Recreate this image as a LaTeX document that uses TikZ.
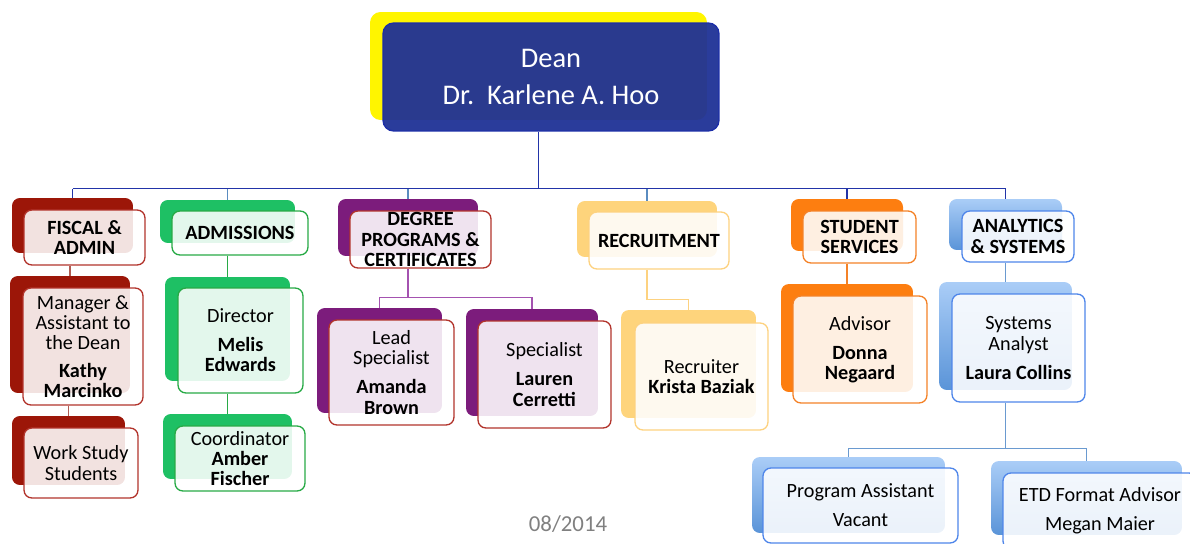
\documentclass[tikz,border=0pt]{standalone}
\usepackage{fontspec}
\setmainfont{Carlito}
\usetikzlibrary{positioning}

\definecolor{deanblue}{RGB}{31,49,150}
\definecolor{deanedge}{RGB}{28,46,168}
\definecolor{deanback}{RGB}{255,245,0}
\definecolor{busblue}{RGB}{34,52,168}
\definecolor{steel}{RGB}{90,140,192}
\definecolor{fiscalred}{RGB}{156,22,8}
\definecolor{fiscaledge}{RGB}{178,52,44}
\definecolor{fiscalline}{RGB}{176,92,82}
\definecolor{admgreen}{RGB}{30,192,100}
\definecolor{admedge}{RGB}{40,170,70}
\definecolor{degpurple}{RGB}{124,28,124}
\definecolor{degline}{RGB}{164,82,176}
\definecolor{recyellow}{RGB}{254,212,124}
\definecolor{recedge}{RGB}{253,210,128}
\definecolor{stuorange}{RGB}{253,126,16}
\definecolor{stuedge}{RGB}{244,130,40}
\definecolor{anatop}{RGB}{170,205,247}
\definecolor{anabottom}{RGB}{90,148,216}
\definecolor{anaedge}{RGB}{79,134,234}
\definecolor{analine}{RGB}{106,154,208}
\definecolor{dategray}{RGB}{128,128,128}

\begin{document}
\begin{tikzpicture}[
            x=0.02cm, y=-0.02cm,
            every node/.style={align=center, font=\fontsize{11.5}{11.5}\selectfont},
            size/.style 2 args={minimum width=#1cm, minimum height=#2cm},
            back/.style={rectangle, rounded corners=4.5pt, inner sep=0pt},
            front/.style={rectangle, draw, rounded corners=4.5pt, inner sep=0pt, line width=0.75pt, fill=white, fill opacity=0.88, text opacity=1},
            head/.style={front, font=\fontsize{11.5}{11.5}\selectfont\bfseries},
            anaback/.style={back, top color=anatop, bottom color=anabottom},
            link/.style={line width=0.8pt}
        ]
        \useasboundingbox (0,0) rectangle (1190,544);
        \clip (0,0) rectangle (1190,544);

        % Dean
        \node[back, fill=deanback, rounded corners=6pt, size={6.74}{2.16}] (deanB) at (538.5,66) {};
        \node[front, draw=deanedge, fill=deanblue, fill opacity=0.95, text=white, rounded corners=6pt, font=\fontsize{16.2}{21}\selectfont, size={6.72}{2.16}] (deanF) at (551,77) {Dean\\Dr.\ \ Karlene A. Hoo};

        % Fiscal & admin
        \node[back, fill=fiscalred, size={2.42}{1.10}] (fiscalB) at (72.5,225.5) {};
        \node[head, draw=fiscaledge, size={2.42}{1.10}] (fiscalF) at (84.5,237.5) {FISCAL \&\\ADMIN};
        \node[back, fill=fiscalred, size={2.40}{2.34}] (managerB) at (70,334.5) {};
        \node[front, draw=fiscaledge, size={2.40}{2.34}] (managerF) at (83,346.5) {Manager \&\\Assistant to\\the Dean\\[4pt]\textbf{Kathy}\\\textbf{Marcinko}};
        \node[back, fill=fiscalred, size={2.26}{1.38}] (workB) at (68.5,450.5) {};
        \node[front, draw=fiscaledge, size={2.28}{1.40}] (workF) at (81,463) {Work Study\\Students};

        % Admissions
        \node[back, fill=admgreen, size={2.70}{0.86}] (admB) at (227.5,221.5) {};
        \node[head, draw=admedge, size={2.72}{0.88}] (admF) at (240,233) {ADMISSIONS};
        \node[back, fill=admgreen, size={2.50}{2.08}] (dirB) at (227.5,329) {};
        \node[front, draw=admedge, size={2.50}{2.10}] (dirF) at (240.5,340.5) {Director\\[5pt]\textbf{Melis}\\\textbf{Edwards}};
        \node[back, fill=admgreen, size={2.58}{1.30}] (coordB) at (227.5,446.5) {};
        \node[front, draw=admedge, size={2.60}{1.30}] (coordF) at (240,458.5) {Coordinator\\\textbf{Amber}\\\textbf{Fischer}};

        % Degree programs
        \node[back, fill=degpurple, size={2.80}{1.14}] (degB) at (408,227.5) {};
        \node[head, draw=fiscaledge, size={2.82}{1.14}] (degF) at (420.5,239.5) {DEGREE\\PROGRAMS \&\\CERTIFICATES};
        \node[back, fill=degpurple, size={2.50}{2.10}] (leadB) at (379.5,360.5) {};
        \node[front, draw=fiscaledge, size={2.50}{2.10}] (leadF) at (391.5,372.5) {Lead\\Specialist\\[5pt]\textbf{Amanda}\\\textbf{Brown}};
        \node[back, fill=degpurple, size={2.64}{2.14}] (specB) at (532,362.5) {};
        \node[front, draw=fiscaledge, size={2.66}{2.14}] (specF) at (544.5,374.5) {Specialist\\[5pt]\textbf{Lauren}\\\textbf{Cerretti}};

        % Recruitment
        \node[back, fill=recyellow, size={2.80}{1.12}] (recB) at (647,229) {};
        \node[head, draw=recedge, size={2.80}{1.14}] (recF) at (659,240.5) {RECRUITMENT};
        \node[back, fill=recyellow, size={2.70}{2.16}] (recrB) at (688.5,364) {};
        \node[front, draw=recedge, size={2.66}{2.14}] (recrF) at (701.5,376.5) {Recruiter\\\textbf{Krista Baziak}};

        % Student services
        \node[back, fill=stuorange, size={2.24}{1.04}] (stuB) at (847,225) {};
        \node[head, draw=stuedge, size={2.26}{1.04}] (stuF) at (859.5,237) {STUDENT\\SERVICES};
        \node[back, fill=stuorange, size={2.64}{2.16}] (advB) at (847,338) {};
        \node[front, draw=stuedge, size={2.68}{2.14}] (advF) at (860,349.5) {Advisor\\[5pt]\textbf{Donna}\\\textbf{Negaard}};

        % Analytics & systems
        \node[anaback, size={2.26}{1.02}] (anaB) at (1005.5,224.5) {};
        \node[head, draw=anaedge, size={2.24}{1.02}] (anaF) at (1018,236.5) {ANALYTICS\\\& SYSTEMS};
        \node[anaback, size={2.66}{2.16}] (sysB) at (1005.5,336) {};
        \node[front, draw=anaedge, size={2.66}{2.16}] (sysF) at (1018.5,348) {Systems\\Analyst\\[5pt]\textbf{Laura Collins}};
        \node[anaback, size={3.86}{1.52}] (paB) at (848.5,495) {};
        \node[front, draw=anaedge, size={3.90}{1.50}] (paF) at (860.5,505.5) {Program Assistant\\[5pt]Vacant};
        \node[anaback, size={3.82}{1.48}] (etdB) at (1086.5,498) {};
        \node[front, draw=anaedge, size={3.88}{1.52}] (etdF) at (1100,511) {ETD Format Advisor\\[5pt]Megan Maier};

        \node[text=dategray, font=\fontsize{13}{14}\selectfont] (date) at (568,524) {08/2014};

        % Dean to departments
        \draw[link, busblue] (deanF.south -| deanB.north) -- ++(0,57) coordinate (bus);
        \draw[link, busblue] (fiscalB.north) -- (fiscalB.north |- bus);
        \draw[link, steel] (admB.north) -- (admB.north |- bus);
        \draw[link, steel] (degB.north) -- (degB.north |- bus);
        \draw[link, steel] (recB.north) -- (recB.north |- bus);
        \draw[link, busblue] (stuB.north) -- (stuB.north |- bus);
        \draw[link, busblue] (anaB.north) -- (anaB.north |- bus);
        \draw[link, busblue] (fiscalB.north |- bus) -- (anaB.north |- bus);

        % inside the departments
        \draw[link, fiscalline] (fiscalF.south -| managerB.north) -- (managerB.north);
        \draw[link, fiscalline] (managerF.south -| workB.north) -- (workB.north);
        \draw[link, admedge] (admF.south -| dirB.north) -- (dirB.north);
        \draw[link, admedge] (dirF.south -| coordB.north) -- (coordB.north);
        \draw[link, degline] (degF.south -| degB.north) -- ++(0,29) coordinate (degsplit);
        \draw[link, degline] (leadB.north) |- (degsplit) -| (specB.north);
        \draw[link, recedge] (recF.south -| recB.north) -- ++(0,30) -| (recrB.north);
        \draw[link, stuedge] (stuF.south -| stuB.north) -- (advB.north);
        \draw[link, analine] (anaF.south -| anaB.north) -- (sysB.north);
        \draw[link, analine] (sysF.south -| sysB.north) -- ++(0,46) coordinate (anasplit);
        \draw[link, analine] (paB.north) |- (anasplit) -| (etdB.north);

    \end{tikzpicture}
\end{document}
